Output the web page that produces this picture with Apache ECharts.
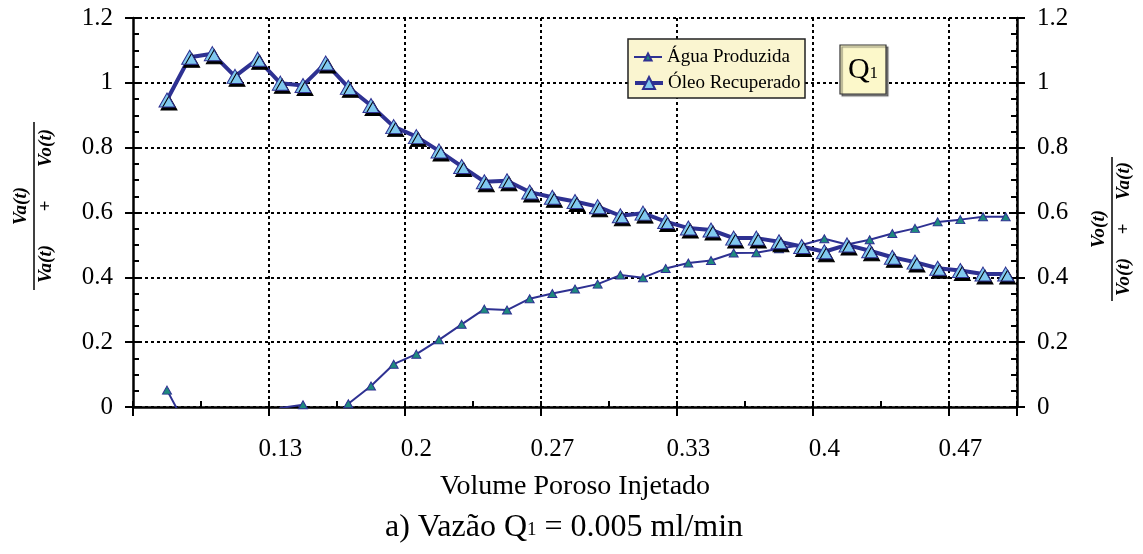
<!DOCTYPE html>
<html>
<head>
<meta charset="utf-8">
<title>Vazão Q1</title>
<script src="https://cdn.jsdelivr.net/npm/echarts@6/dist/echarts.min.js"></script>
<style>
  html, body { margin: 0; padding: 0; background: #fff; }
  #main { width: 1143px; height: 554px; }
</style>
</head>
<body>
<div id="main"></div>
<script>
'use strict';

// Volume poroso injetado (categorias do eixo x)
var pvInjetado = ['0.07', '0.08', '0.09', '0.1', '0.11', '0.12', '0.13', '0.14', '0.16', '0.17',
                  '0.18', '0.19', '0.2', '0.21', '0.22', '0.23', '0.24', '0.26', '0.27', '0.28',
                  '0.29', '0.3', '0.31', '0.32', '0.33', '0.34', '0.36', '0.37', '0.38', '0.39',
                  '0.4', '0.41', '0.42', '0.43', '0.44', '0.46', '0.47', '0.48', '0.49'];

// Va/(Va+Vo)
var aguaProduzida = [null, 0.052, -0.079, -0.09, -0.02, -0.073, -0.003, 0.007, -0.061, 0.01,
                     0.065, 0.132, 0.163, 0.207, 0.255, 0.302, 0.299, 0.334, 0.35, 0.364,
                     0.379, 0.407, 0.399, 0.427, 0.444, 0.452, 0.475, 0.476, 0.488, 0.5,
                     0.519, 0.501, 0.516, 0.535, 0.551, 0.571, 0.578, 0.587, 0.587];

// Vo/(Vo+Va)
var oleoRecuperado = [null, 0.947, 1.079, 1.09, 1.02, 1.073, 0.999, 0.992, 1.061, 0.986,
                      0.93, 0.865, 0.834, 0.79, 0.742, 0.695, 0.698, 0.663, 0.647, 0.634,
                      0.618, 0.590, 0.598, 0.572, 0.552, 0.546, 0.521, 0.521, 0.510, 0.495,
                      0.479, 0.500, 0.482, 0.462, 0.447, 0.428, 0.421, 0.410, 0.410];

var yMin = 0, yMax = 1.2, yStep = 0.2;

var serif = 'Liberation Serif';
var azul = '#2E3192';
var fracFont = 'italic bold 19px "Liberation Serif"';

var myChart = echarts.init(document.getElementById('main'));

// y axis (main one carries labels and inside ticks, overlay one carries outside major ticks)
function eixoY(pos, comGrade) {
  return {
    type: 'value', position: pos, min: yMin, max: yMax, interval: yStep, offset: 0,
    axisLine: { show: true, lineStyle: { color: '#000', width: 2.5 } },
    axisTick: { show: true, inside: true, length: 6, lineStyle: { color: '#000', width: 2 } },
    minorTick: { show: true, splitNumber: 4, length: 6, lineStyle: { color: '#000', width: 2 } },
    splitLine: { show: comGrade, lineStyle: { color: '#000', width: 2, type: [3, 3] } },
    axisLabel: { margin: 20, color: '#000', fontSize: 25, fontFamily: serif }
  };
}
function eixoYTicks(pos) {
  return {
    type: 'value', position: pos, min: yMin, max: yMax, interval: yStep, offset: 0,
    axisLine: { show: false },
    axisTick: { show: true, inside: false, length: 8, lineStyle: { color: '#000', width: 2 } },
    splitLine: { show: false },
    axisLabel: { show: false }
  };
}

// rotated fraction used as y axis title
function fracao(x, y, num, d1, d2, meia, passo) {
  function txt(s, px, py, va) {
    return { type: 'text', x: px, y: py,
             style: { text: s, align: 'center', verticalAlign: va,
                      textAlign: 'center', textVerticalAlign: va, font: fracFont, fill: '#000' } };
  }
  return {
    type: 'group', x: x, y: y, rotation: Math.PI / 2,
    children: [
      txt(num, 0, -3, 'bottom'),
      { type: 'line', shape: { x1: -meia, y1: 0, x2: meia, y2: 0 },
        style: { stroke: '#000', lineWidth: 1.5 } },
      txt(d1, -passo, 3, 'top'),
      txt('+', 0, 3, 'top'),
      txt(d2, passo, 3, 'top')
    ]
  };
}

var legendaBase = {
  orient: 'vertical', left: 633, padding: 0, itemWidth: 28, z: 6,
  textStyle: { color: '#000', fontSize: 19, fontFamily: serif, lineHeight: 20 }
};

var option = {
  animation: false,
  backgroundColor: '#fff',
  grid: { left: 133, right: 126, top: 18, bottom: 147, outerBoundsMode: 'none' },
  legend: [
    echarts.util.merge({ top: 47, itemHeight: 9, lineStyle: { width: 2 },
                         data: ['Água Produzida'] }, legendaBase),
    echarts.util.merge({ top: 73, itemHeight: 15, lineStyle: { width: 4 },
                         itemStyle: { shadowColor: 'transparent' },
                         data: ['Óleo Recuperado'] }, legendaBase)
  ],
  xAxis: [
    {
      type: 'category', data: pvInjetado, position: 'bottom', boundaryGap: true,
      axisLine: { show: true, lineStyle: { color: '#000', width: 2.5 } },
      axisTick: { show: true, inside: true, length: 6, lineStyle: { color: '#000', width: 2 },
                  interval: function (i) { return i % 3 === 0; } },
      splitLine: { show: true, lineStyle: { color: '#000', width: 2, type: [3, 3] },
                   interval: function (i) { return i % 6 === 0 && i > 0; } },
      axisLabel: { margin: 30, color: '#000', fontSize: 25, fontFamily: serif,
                   interval: function (i) { return i % 6 === 0 && i > 0; } }
    },
    {
      type: 'category', data: pvInjetado, position: 'bottom', boundaryGap: true,
      axisLine: { show: false },
      axisTick: { show: true, inside: false, length: 9, lineStyle: { color: '#000', width: 2 },
                  interval: function (i) { return i % 6 === 0; } },
      splitLine: { show: false },
      axisLabel: { show: false }
    }
  ],
  yAxis: [eixoY('left', true), eixoY('right', false), eixoYTicks('left'), eixoYTicks('right')],
  series: [
    {
      name: 'Água Produzida',
      type: 'line',
      xAxisIndex: 0, yAxisIndex: 0,
      data: aguaProduzida,
      symbol: 'triangle', symbolSize: [9, 8],
      lineStyle: { color: azul, width: 2 },
      itemStyle: { color: '#1E8A7E', borderColor: azul, borderWidth: 1 },
      clip: true,
      z: 3
    },
    {
      name: 'Óleo Recuperado',
      type: 'line',
      xAxisIndex: 0, yAxisIndex: 0,
      data: oleoRecuperado,
      symbol: 'triangle', symbolSize: [16, 14],
      lineStyle: { color: azul, width: 4 },
      itemStyle: { color: '#80C8EE', borderColor: azul, borderWidth: 1,
                   shadowColor: '#000', shadowOffsetX: 2, shadowOffsetY: 3, shadowBlur: 0 },
      clip: true,
      z: 4
    }
  ],
  graphic: [
    fracao(34, 206, 'Va(t)', 'Va(t)', 'Vo(t)', 84, 58),
    fracao(1112, 229, 'Vo(t)', 'Vo(t)', 'Va(t)', 72, 48),
    // legend box
    {
      type: 'rect', shape: { x: 628, y: 39, width: 177, height: 59 }, z: 3,
      style: { fill: '#FAF5D0', stroke: '#222', lineWidth: 1.5 }
    },
    // Q1 box
    {
      type: 'rect', shape: { x: 840, y: 45, width: 46, height: 49 },
      style: { fill: '#FCF8CA', stroke: '#333', lineWidth: 1.2,
               shadowColor: 'rgba(0,0,0,0.45)', shadowOffsetX: 2, shadowOffsetY: 2, shadowBlur: 1 },
      z: 10
    },
    {
      type: 'text', x: 863, y: 70, z: 11,
      style: {
        text: '{q|Q}{s|1}', align: 'center', verticalAlign: 'middle',
        textAlign: 'center', textVerticalAlign: 'middle',
        rich: {
          q: { fontSize: 30, fontFamily: serif, fill: '#000', color: '#000' },
          s: { fontSize: 17, fontFamily: serif, fill: '#000', color: '#000', verticalAlign: 'bottom', padding: [0, 0, 3, 0] }
        }
      }
    },
    // x axis title
    {
      type: 'text', x: 575, y: 487,
      style: { text: 'Volume Poroso Injetado', align: 'center', verticalAlign: 'middle',
               textAlign: 'center', textVerticalAlign: 'middle',
               font: '28px "Liberation Serif"', fill: '#000' }
    },
    // chart caption
    {
      type: 'text', x: 564, y: 528,
      style: {
        text: '{n|a) Vazão Q}{s|1}{n| = 0.005 ml/min}', align: 'center', verticalAlign: 'middle',
        textAlign: 'center', textVerticalAlign: 'middle',
        rich: {
          n: { fontSize: 32, fontFamily: serif, fill: '#000', color: '#000' },
          s: { fontSize: 19, fontFamily: serif, fill: '#000', color: '#000', verticalAlign: 'bottom', padding: [0, 0, 4, 0] }
        }
      }
    }
  ]
};

myChart.setOption(option);
</script>
</body>
</html>
